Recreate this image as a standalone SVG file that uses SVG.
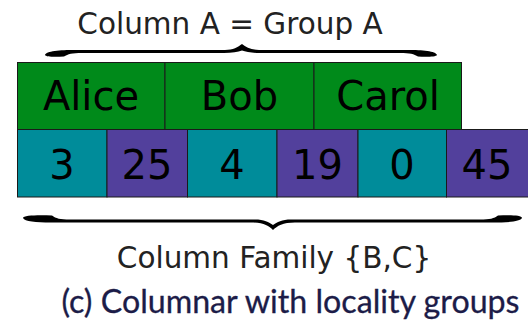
<svg xmlns="http://www.w3.org/2000/svg" width="528" height="320" viewBox="0 0 528 320">
<style>
.cell{stroke:#1a1a1a;stroke-width:1}
.g{fill:#008a1a}
.t{fill:#008c9a}
.p{fill:#52409c}
.big{font-family:"DejaVu Sans",sans-serif;font-size:40px;fill:#000;text-anchor:middle}
.lbl{font-family:"DejaVu Sans",sans-serif;font-size:29.5px;fill:#222;text-anchor:middle}
.cap{font-family:Lato,"Open Sans",sans-serif;text-anchor:middle}
</style>
<rect width="528" height="320" fill="#fff"/>
<text class="lbl" x="230" y="34">Column A = Group A</text>
<g id="braces">
<path fill="#000" d="M45,55 C46,51 60,50 75,50 L225,50 C233,50 238,47 242,44 C246,47 251,50 259,50 L408,50 C422,50 436,51 437,55 C436,57 425,57 418,56.5 C414,54 410,53 400,53 L260,53 C252,53 246,52 242,50.5 C238,52 232,53 224,53 L82,53 C72,53 68,54 64,56.5 C55,57 46,57 45,55 Z"/>
<path fill="#000" d="M23,218 C23,215 40,215 52,215.5 C56,218.5 60,219.5 70,219.5 L255,219.5 C264,219.5 269,222 273,225 C277,222 282,219.5 291,219.5 L480,219.5 C490,219.5 494,218.5 498,215.5 C510,215 522,215 522,218 C520,222 505,223 480,222.5 L295,222.5 C283,222.5 277,226 273,230 C269,226 263,222.5 251,222.5 L60,222.5 C40,223 25,222 23,218 Z"/>
</g>
<g id="alice"><rect class="cell g" x="17.5" y="62.5" width="147.5" height="67"/><text class="big" x="91" y="110">Alice</text></g>
<g id="bob"><rect class="cell g" x="165" y="62.5" width="149" height="67"/><text class="big" x="239.5" y="110">Bob</text></g>
<g id="carol"><rect class="cell g" x="314" y="62.5" width="147.5" height="67"/><text class="big" x="388" y="110">Carol</text></g>
<g id="v3"><rect class="cell t" x="17.5" y="129.5" width="89.5" height="67.5"/><text class="big" x="62" y="179">3</text></g>
<g id="v25"><rect class="cell p" x="107" y="129.5" width="80.5" height="67.5"/><text class="big" x="147" y="179">25</text></g>
<g id="v4"><rect class="cell t" x="187.5" y="129.5" width="89.5" height="67.5"/><text class="big" x="232" y="179">4</text></g>
<g id="v19"><rect class="cell p" x="277" y="129.5" width="81" height="67.5"/><text class="big" x="317.5" y="179">19</text></g>
<g id="v0"><rect class="cell t" x="358" y="129.5" width="88.5" height="67.5"/><text class="big" x="402" y="179">0</text></g>
<g id="v45"><rect class="cell p" x="446.5" y="129.5" width="82" height="67.5"/><text class="big" x="487" y="179">45</text></g>
<text class="lbl" x="274" y="268" font-size="28.7">Column Family {B,C}</text>
<text class="cap" x="290.5" y="312.5" font-size="32.2" fill="#1c1c48" stroke="#1c1c48" stroke-width="0.3">(c) Columnar with locality groups</text>
</svg>
